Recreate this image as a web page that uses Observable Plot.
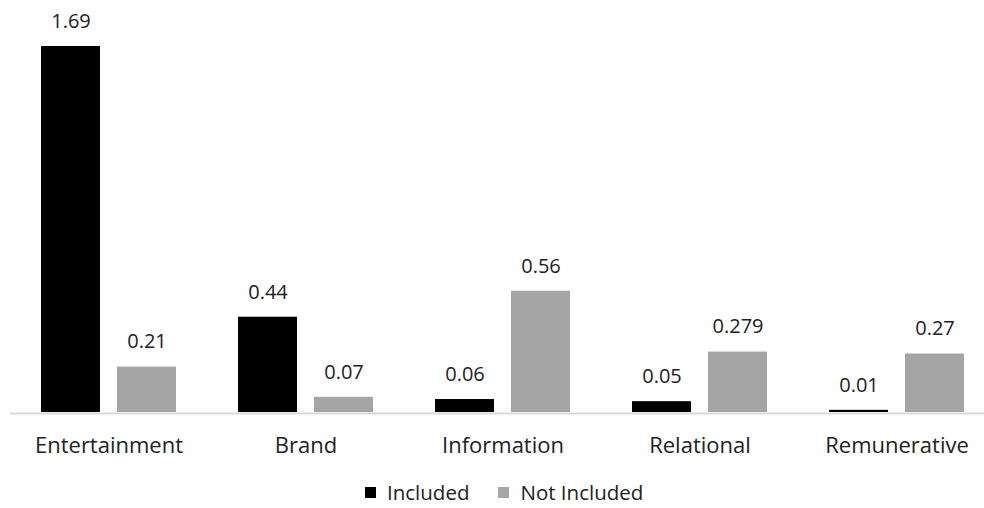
<!DOCTYPE html>
<html>
<head>
<meta charset="utf-8">
<script src="https://cdn.jsdelivr.net/npm/d3@7"></script>
<script src="https://cdn.jsdelivr.net/npm/@observablehq/plot@0.6"></script>
<style>
  html, body { margin: 0; padding: 0; background: #fff; overflow: hidden; }
  #chart svg { display: block; }
  .legend {
    display: flex; align-items: center; height: 20px; line-height: 20px; padding-top: 12px;
    padding-left: 365px; font-family: "Open Sans", sans-serif; font-size: 20.5px; color: #222;
  }
  .legend .sw { width: 11px; height: 11px; margin-right: 11px; }
  .legend .item { display: flex; align-items: center; margin-right: 29px; }
</style>
</head>
<body>
<div id="chart"></div>
<script>
// Mean values per content category, for posts with and without the feature
const categories = ["Entertainment", "Brand", "Information", "Relational", "Remunerative"];
const series = ["Included", "Not Included"];
const included = [1.69, 0.44, 0.06, 0.05, 0.01];
const notIncluded = [0.21, 0.07, 0.56, 0.279, 0.27];
const colors = ["#000000", "#a5a5a5"];

const data = categories.flatMap((c, i) => [
  {category: c, series: series[0], value: included[i]},
  {category: c, series: series[1], value: notIncluded[i]}
]);

const chart = Plot.plot({
  width: 984,
  height: 470,
  marginTop: 0,
  marginLeft: 10,
  marginRight: 0,
  marginBottom: 58,
  style: {fontFamily: "'Open Sans', sans-serif", fontSize: "22px", color: "#222"},
  fx: {domain: categories, range: [10, 995], padding: 0, label: null, tickSize: 0, tickPadding: 25, axis: "bottom"},
  x: {domain: series, axis: null, paddingInner: 0.22, paddingOuter: 0.39},
  y: {domain: [0, 1.69], range: [412, 46], axis: null},
  color: {domain: series, range: colors},
  marks: [
    Plot.barY(data, {fx: "category", x: "series", y: "value", fill: "series"}),
    Plot.ruleY([0], {stroke: "#d9d9d9", strokeWidth: 2, dy: 1}),
    Plot.text(data, {
      fx: "category", x: "series", y: "value",
      text: d => String(d.value),
      dy: -25, fontSize: 20, fill: "#222",
      style: "letter-spacing: 1.5px"
    })
  ]
});
document.getElementById("chart").append(chart);

const legend = document.createElement("div");
legend.className = "legend";
series.forEach((s, i) => {
  const item = document.createElement("div");
  item.className = "item";
  const sw = document.createElement("span");
  sw.className = "sw";
  sw.style.background = colors[i];
  item.append(sw, document.createTextNode(s));
  legend.append(item);
});
document.getElementById("chart").append(legend);
</script>
</body>
</html>
